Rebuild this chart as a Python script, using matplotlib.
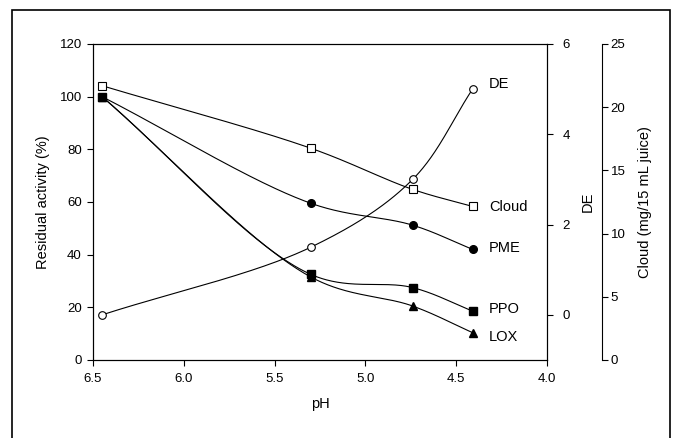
import numpy as np
import matplotlib
matplotlib.use("Agg")
import matplotlib.pyplot as plt
from matplotlib.patches import Rectangle

plt.rcParams.update({
    "font.family": ["Liberation Sans", "DejaVu Sans"],
    "font.size": 10,
    "axes.linewidth": 0.8,
})

# data
ph = [6.45, 5.30, 4.74, 4.41]
pme = [100, 59.5, 51.2, 42.0]
ppo = [100, 32.5, 27.5, 18.6]
lox = [100, 31.5, 20.5, 10.4]
de = [0.0, 1.5, 3.0, 5.0]
cloud = [21.7, 16.75, 13.5, 12.15]

label_ph = 4.32
labels = {"DE": 104.8, "Cloud": 58.1, "PME": 42.5, "PPO": 19.4, "LOX": 8.7}

XLIM = (6.5, 4.0)
W_PX, H_PX = 454.0, 316.0


def catmull_rom(P, n=80, alpha=0.5):
    # centripetal Catmull-Rom through screen-space points P (k x 2)
    P = np.vstack([2 * P[0] - P[1], P, 2 * P[-1] - P[-2]])
    out = []
    for i in range(1, len(P) - 2):
        p0, p1, p2, p3 = P[i - 1], P[i], P[i + 1], P[i + 2]
        t0 = 0.0
        t1 = t0 + np.linalg.norm(p1 - p0) ** alpha
        t2 = t1 + np.linalg.norm(p2 - p1) ** alpha
        t3 = t2 + np.linalg.norm(p3 - p2) ** alpha
        t = np.linspace(t1, t2, n)[:, None]
        a1 = (t1 - t) / (t1 - t0) * p0 + (t - t0) / (t1 - t0) * p1
        a2 = (t2 - t) / (t2 - t1) * p1 + (t - t1) / (t2 - t1) * p2
        a3 = (t3 - t) / (t3 - t2) * p2 + (t - t2) / (t3 - t2) * p3
        b1 = (t2 - t) / (t2 - t0) * a1 + (t - t0) / (t2 - t0) * a2
        b2 = (t3 - t) / (t3 - t1) * a2 + (t - t1) / (t3 - t1) * a3
        c = (t2 - t) / (t2 - t1) * b1 + (t - t1) / (t2 - t1) * b2
        out.append(c)
    return np.vstack(out)


def smooth(x, y, ylim):
    x = np.asarray(x, float)
    y = np.asarray(y, float)
    px = (x - XLIM[0]) / (XLIM[1] - XLIM[0]) * W_PX
    py = (y - ylim[0]) / (ylim[1] - ylim[0]) * H_PX
    c = catmull_rom(np.column_stack([px, py]))
    return (XLIM[0] + c[:, 0] / W_PX * (XLIM[1] - XLIM[0]),
            ylim[0] + c[:, 1] / H_PX * (ylim[1] - ylim[0]))


fig = plt.figure(figsize=(6.75, 4.38), dpi=100)
ax = fig.add_axes([93 / 675, 1 - 360 / 438, 454 / 675, 316 / 438])

# outer frame
fig.patches.append(Rectangle((12 / 675, -0.05), 658 / 675, 1.05 - 10 / 438,
                             transform=fig.transFigure, fill=False,
                             edgecolor="black", linewidth=1.2, clip_on=False))

lw = 0.8
ms = 5.5
for vals, mk in [(pme, "o"), (ppo, "s"), (lox, "^")]:
    xs, ys = smooth(ph, vals, (0, 120))
    ax.plot(xs, ys, color="black", lw=lw)
    ax.plot(ph, vals, mk, color="black", ms=ms, zorder=3)

ax.set_xlim(*XLIM)
ax.set_ylim(0, 120)
ax.set_xticks([6.5, 6.0, 5.5, 5.0, 4.5, 4.0])
ax.set_xticklabels(["6.5", "6.0", "5.5", "5.0", "4.5", "4.0"])
ax.set_yticks([0, 20, 40, 60, 80, 100, 120])
ax.tick_params(direction="out", length=4, width=0.8, labelsize=9.5)
ax.tick_params(axis="x", pad=5)
ax.tick_params(axis="y", pad=4)
ax.set_ylabel("Residual activity (%)", fontsize=10.5, labelpad=7)
ax.set_xlabel("pH", fontsize=10.5, labelpad=9)

# DE axis
ax2 = ax.twinx()
xs, ys = smooth(ph, de, (-1, 6))
ax2.plot(xs, ys, color="black", lw=lw)
ax2.plot(ph, de, "o", mfc="white", mec="black", mew=0.8, ms=ms, zorder=3)
ax2.set_ylim(-1, 6)
ax2.set_yticks([0, 2, 4, 6])
ax2.tick_params(direction="out", length=4, width=0.8, labelsize=9.5, pad=7)
ax2.set_ylabel("DE", fontsize=10.5, labelpad=8)

# Cloud axis
ax3 = ax.twinx()
ax3.spines["right"].set_position(("axes", (601.7 - 93) / 454))
for s in ["top", "left", "bottom"]:
    ax3.spines[s].set_visible(False)
xs, ys = smooth(ph, cloud, (0, 25))
ax3.plot(xs, ys, color="black", lw=lw)
ax3.plot(ph, cloud, "s", mfc="white", mec="black", mew=0.8, ms=ms, zorder=3)
ax3.set_ylim(0, 25)
ax3.set_yticks([0, 5, 10, 15, 20, 25])
ax3.tick_params(direction="out", length=4, width=0.8, labelsize=9.5, pad=2.5)
ax3.set_ylabel("Cloud (mg/15 mL juice)", fontsize=10.5, labelpad=9)

for name, yv in labels.items():
    ax.text(label_ph, yv, name, fontsize=10.5, ha="left", va="center")

fig.savefig("out.png", dpi=100)
